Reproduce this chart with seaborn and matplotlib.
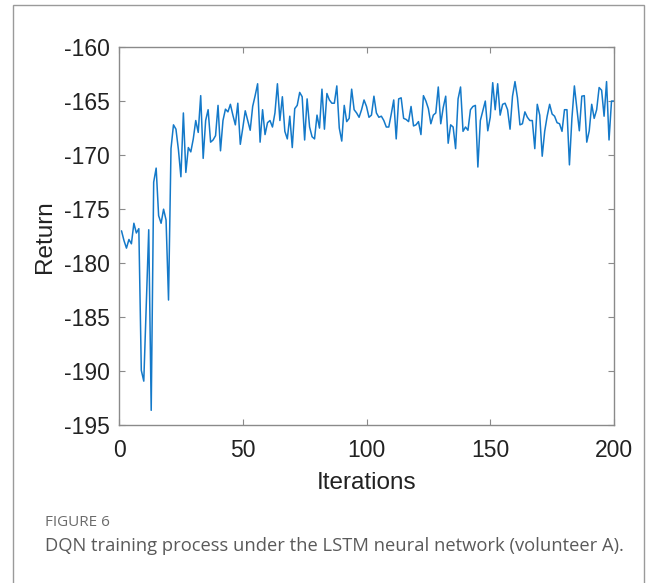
import numpy as np
import pandas as pd
import matplotlib
matplotlib.use("Agg")
import matplotlib.pyplot as plt
import matplotlib.patches as mpatches
import seaborn as sns

iterations = list(range(1, 201))
returns = [
    -177.0, -177.9, -178.6, -177.8, -178.2, -176.3, -177.2, -176.8, -189.9, -190.9,
    -184.0, -176.9, -193.6, -172.5, -171.2, -175.6, -176.3, -175.0, -176.0, -183.4,
    -169.4, -167.2, -167.6, -169.5, -172.0, -166.1, -171.6, -169.3, -169.7, -168.5,
    -166.8, -167.9, -164.5, -170.3, -166.8, -165.8, -168.8, -168.6, -168.2, -165.4,
    -169.6, -166.8, -165.75, -166.0, -165.3, -166.3, -167.2, -165.2, -169.0, -167.5,
    -165.9, -166.8, -167.7, -165.5, -164.5, -163.4, -168.8, -165.8, -168.1, -167.0,
    -166.8, -167.4, -166.1, -163.4, -166.8, -164.6, -167.8, -168.5, -166.4, -169.3,
    -165.7, -165.4, -164.2, -164.6, -168.6, -164.8, -167.4, -168.3, -168.5, -166.3,
    -167.5, -163.9, -167.6, -164.3, -164.9, -165.2, -165.2, -163.6, -167.5, -168.7,
    -165.4, -166.9, -166.6, -163.9, -165.8, -166.1, -166.5, -165.8, -164.9, -165.5,
    -166.5, -166.3, -164.55, -166.1, -166.5, -166.4, -166.8, -167.4, -167.4, -166.2,
    -164.9, -168.5, -164.8, -164.7, -166.6, -166.7, -166.9, -165.5, -167.3, -167.2,
    -166.9, -168.1, -164.5, -165.0, -165.7, -167.1, -166.3, -166.1, -163.7, -167.1,
    -165.6, -164.55, -168.9, -167.2, -167.4, -169.4, -164.8, -163.7, -167.8, -167.4,
    -167.7, -165.8, -165.5, -165.4, -171.1, -166.8, -165.9, -165.0, -167.75, -166.5,
    -163.3, -165.8, -163.4, -166.3, -165.3, -165.2, -165.8, -167.6, -164.55, -163.2,
    -164.7, -167.2, -167.1, -166.0, -166.5, -166.8, -166.8, -169.4, -165.3, -166.3,
    -170.1, -167.8, -166.4, -165.3, -166.2, -166.4, -167.0, -167.1, -167.8, -165.8,
    -165.8, -170.9, -166.6, -163.6, -165.7, -167.75, -164.55, -164.5, -168.8, -167.75,
    -165.3, -166.6, -165.8, -163.75, -164.0, -166.4, -163.2, -168.6, -165.0, -165.0,
]
x_ticks = [0, 50, 100, 150, 200]
y_ticks = [-195, -190, -185, -180, -175, -170, -165, -160]
x_label = "Iterations"
y_label = "Return"
fig_label = "FIGURE 6"
caption = "DQN training process under the LSTM neural network (volunteer A)."

df = pd.DataFrame({"Iterations": iterations, "Return": returns})

sns.set_theme(style="white")
plt.rcParams["font.family"] = ["Liberation Sans", "DejaVu Sans"]

fig = plt.figure(figsize=(6.58, 5.83), dpi=100)
ax = fig.add_axes([0.1809, 0.2702, 0.7522, 0.6492])

sns.lineplot(data=df, x="Iterations", y="Return", ax=ax, color="#1479c9",
             linewidth=1.1, legend=False)

ax.set_xlim(0, 200)
ax.set_ylim(-195, -160)
ax.set_xticks(x_ticks)
ax.set_yticks(y_ticks)
ax.set_xticklabels([str(t) for t in x_ticks])
ax.set_yticklabels([str(t) for t in y_ticks])

spine_color = "#8a8a8a"
for s in ax.spines.values():
    s.set_visible(True)
    s.set_color(spine_color)
    s.set_linewidth(1.0)

ax.tick_params(axis="both", which="both", direction="in", length=4, width=0.8,
               color=spine_color, labelsize=16.5, labelcolor="#222222",
               top=True, right=True, bottom=True, left=True)
ax.tick_params(axis="x", pad=9.5)
ax.tick_params(axis="y", pad=6.5)

ax.set_xlabel(x_label, fontsize=17.5, color="#222222", labelpad=7.5)
ax.set_ylabel(y_label, fontsize=17.5, color="#222222", labelpad=5.5)

# outer frame of the figure panel
frame = mpatches.Rectangle((13 / 658, -0.05), (644 - 13) / 658, 1.05 - 5 / 583,
                           transform=fig.transFigure, fill=False,
                           edgecolor="#9a9a9a", linewidth=1.0)
fig.add_artist(frame)

fig.text(45 / 658, 1 - 522 / 583, fig_label, fontsize=11, color="#6b6b6b",
         family=["Open Sans", "DejaVu Sans"], va="center", ha="left")
fig.text(45 / 658, 1 - 546 / 583, caption, fontsize=13.2, color="#5a5a5a",
         family=["Open Sans", "DejaVu Sans"], va="center", ha="left")

fig.savefig("out.png", dpi=100)
